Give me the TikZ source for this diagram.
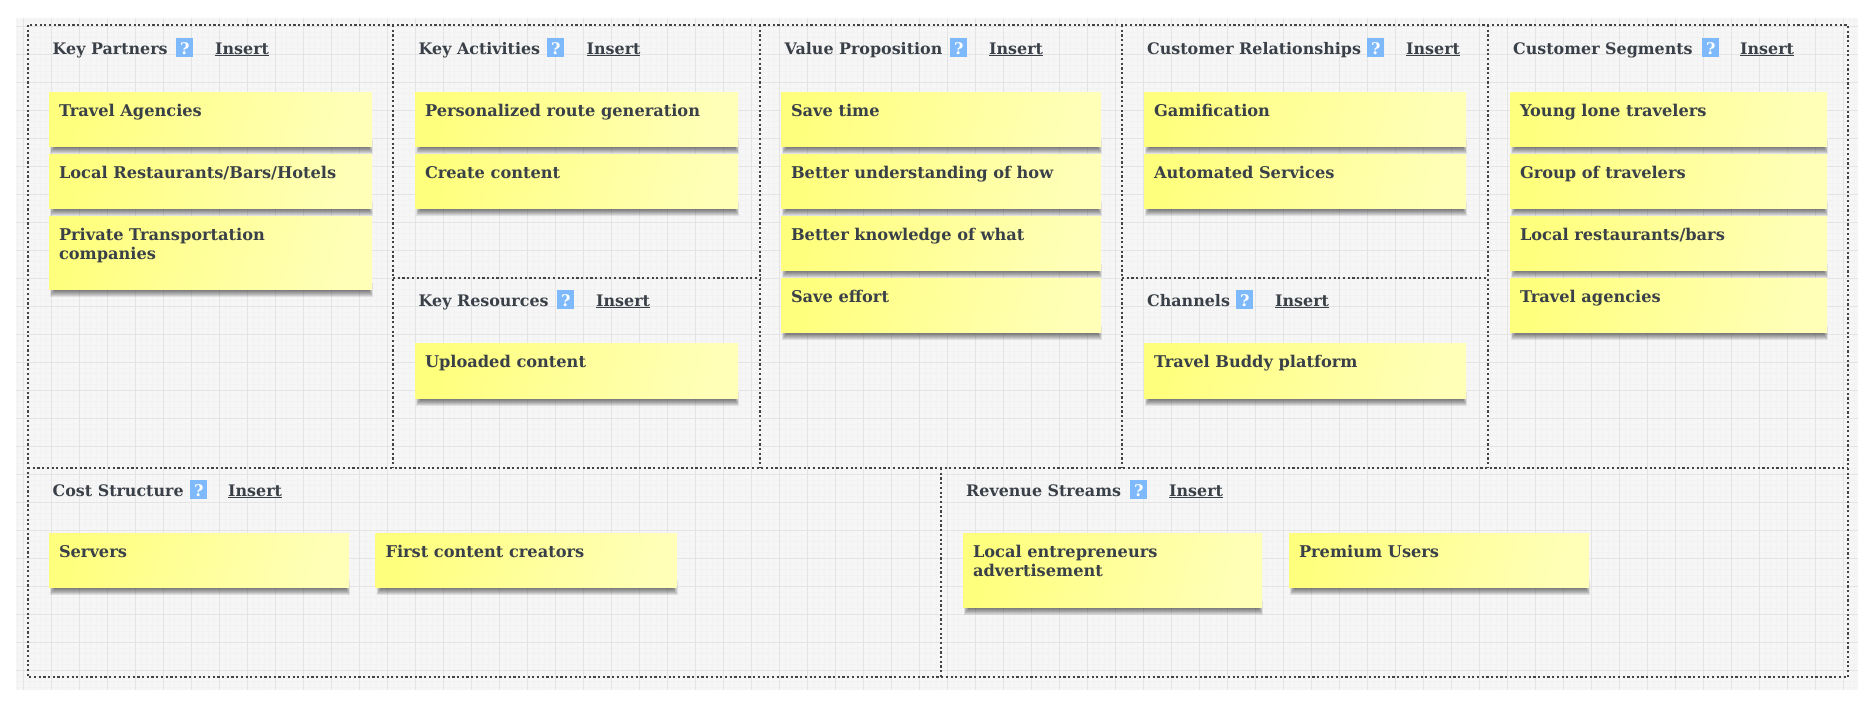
\documentclass[tikz,border=0pt]{standalone}
\usepackage{fontspec}
\setmainfont{DejaVu Serif}
\usepackage{xcolor}
\definecolor{bgc}{HTML}{F6F6F6}
\definecolor{majc}{HTML}{E4E4E4}
\definecolor{minc}{HTML}{F2F2F2}
\definecolor{framec}{HTML}{444444}
\definecolor{inkc}{HTML}{3A4048}
\definecolor{stickyA}{HTML}{FFFF7E}
\definecolor{stickyB}{HTML}{FFFFB8}
\definecolor{helpc}{HTML}{7DB9FB}
\tikzset{
  panel/.style={anchor=north west,inner sep=0pt,outer sep=0pt},
  frameline/.style={draw=framec,line width=2.2pt,dash pattern=on 2.2pt off 2.5pt},
  sticky/.style={anchor=north west,inner xsep=10pt,inner ysep=0pt,outer sep=0pt,
    left color=stickyA,right color=stickyB,shading angle=75,text=inkc,
    font=\fontsize{16.2}{19}\selectfont\bfseries},
  titletext/.style={anchor=base west,inner sep=0pt,text=inkc,font=\fontsize{15.9}{18}\selectfont\bfseries},
  helpbox/.style={anchor=base west,fill=helpc,text=white,minimum width=17pt,text height=16pt,text depth=3pt,inner sep=0pt,font=\fontsize{16}{18}\selectfont\bfseries},
  inslink/.style={anchor=base west,inner sep=0pt,text=inkc,font=\fontsize{15.9}{18}\selectfont\bfseries},
}
\newcommand{\stk}[6]{%
  \foreach \d/\e in {0/9,1/8,2/7,3/6,4/5,5/4,6/3,7/2}{
    \fill[black,opacity=.085] ({#2+1+\d*.7},{#3+#5-6}) rectangle ({#2+#4+1-\d*.7},{#3+#5+\e-1});
  }
  \node[sticky] (#1) at (#2,#3) {\parbox[b][#5pt][t]{\dimexpr#4pt-20pt\relax}{\rule{0pt}{24pt}#6}};
}
\newcommand{\head}[6]{%
  \node[titletext] (#1t) at (#3,#2) {#4};
  \node[helpbox] (#1h) at (#5,#2) {\hbox to 17pt{\hss ?\hss}};
  \node[inslink] (#1i) at (#6,#2) {\underline{Insert}};
}
\begin{document}
\begin{tikzpicture}[x=1pt,y=-1pt]
\useasboundingbox (0,0) rectangle (1869,702);
\fill[bgc] (16,18) rectangle (1858,690);
\begin{scope}
\clip (16,18) rectangle (1858,690);
\foreach \i in {0,...,330}{\draw[minc,line width=.6pt] ({23.3+5.6*\i-5.6},18) -- ({23.3+5.6*\i-5.6},690);}
\foreach \i in {0,...,120}{\draw[minc,line width=.6pt] (16,{26.3+5.6*\i-5.6}) -- (1858,{26.3+5.6*\i-5.6});}
\foreach \i in {0,...,66}{\draw[majc,line width=1.1pt] ({23.3+28*\i},18) -- ({23.3+28*\i},690);}
\foreach \i in {0,...,24}{\draw[majc,line width=1.1pt] (16,{26.3+28*\i}) -- (1858,{26.3+28*\i});}
\end{scope}
% panels
\node[panel,minimum width=365pt,minimum height=443pt] (kp) at (28,25) {};
\node[panel,minimum width=367pt,minimum height=253pt] (ka) at (393,25) {};
\node[panel,minimum width=367pt,minimum height=190pt] (kr) at (393,278) {};
\node[panel,minimum width=362pt,minimum height=443pt] (vp) at (760,25) {};
\node[panel,minimum width=366pt,minimum height=253pt] (cr) at (1122,25) {};
\node[panel,minimum width=366pt,minimum height=190pt] (ch) at (1122,278) {};
\node[panel,minimum width=360pt,minimum height=443pt] (cs) at (1488,25) {};
\node[panel,minimum width=913pt,minimum height=209pt] (co) at (28,468) {};
\node[panel,minimum width=907pt,minimum height=209pt] (rs) at (941,468) {};
\draw[frameline] (kp.north west) rectangle (rs.south east);
\draw[frameline] (kp.north east) -- (kp.south east);
\draw[frameline] (ka.north east) -- (kr.south east);
\draw[frameline] (vp.north east) -- (vp.south east);
\draw[frameline] (cr.north east) -- (ch.south east);
\draw[frameline] (kp.south west) -- (cs.south east);
\draw[frameline] (ka.south west) -- (ka.south east);
\draw[frameline] (cr.south west) -- (cr.south east);
\draw[frameline] (co.north east) -- (co.south east);
% headers
\head{kp}{54}{52.5}{Key Partners}{176}{215}
\head{ka}{54}{418.5}{Key Activities}{547}{586.5}
\head{vp}{54}{784.5}{Value Proposition}{950}{989}
\head{cr}{54}{1147}{Customer Relationships}{1367}{1406}
\head{cs}{54}{1513}{Customer Segments}{1702}{1740}
\head{kr}{306}{418.5}{Key Resources}{557}{596}
\head{ch}{306}{1147}{Channels}{1236}{1275}
\head{co}{496}{52.5}{Cost Structure}{190}{228}
\head{rs}{496}{966}{Revenue Streams}{1130}{1169}
% stickies
\stk{s1}{49}{92}{323}{54}{Travel Agencies}
\stk{s2}{49}{154}{323}{54}{Local Restaurants/Bars/Hotels}
\stk{s3}{49}{216}{323}{73}{Private Transportation\\companies}
\stk{s4}{415}{92}{323}{54}{Personalized route generation}
\stk{s5}{415}{154}{323}{54}{Create content}
\stk{s6}{415}{343}{323}{55}{Uploaded content}
\stk{s7}{781}{92}{320}{54}{Save time}
\stk{s8}{781}{154}{320}{54}{Better understanding of how}
\stk{s9}{781}{216}{320}{54}{Better knowledge of what}
\stk{s10}{781}{278}{320}{54}{Save effort}
\stk{s11}{1144}{92}{322}{54}{Gamification}
\stk{s12}{1144}{154}{322}{54}{Automated Services}
\stk{s13}{1144}{343}{322}{55}{Travel Buddy platform}
\stk{s14}{1510}{92}{317}{54}{Young lone travelers}
\stk{s15}{1510}{154}{317}{54}{Group of travelers}
\stk{s16}{1510}{216}{317}{54}{Local restaurants/bars}
\stk{s17}{1510}{278}{317}{54}{Travel agencies}
\stk{s18}{49}{533}{300}{54}{Servers}
\stk{s19}{375.5}{533}{301}{54}{First content creators}
\stk{s20}{963}{533}{299}{74}{Local entrepreneurs\\advertisement}
\stk{s21}{1289}{533}{300}{54}{Premium Users}
\end{tikzpicture}
\end{document}
